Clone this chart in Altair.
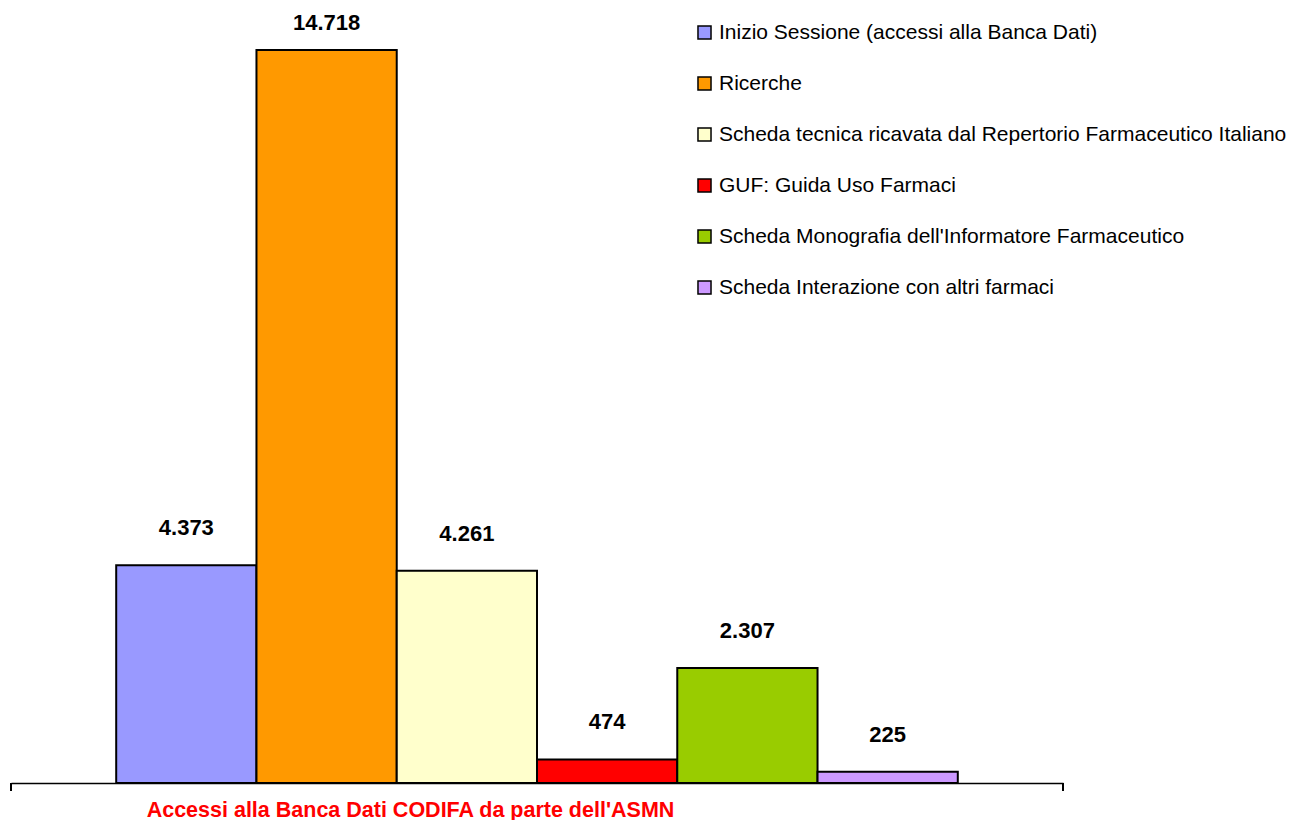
import altair as alt
import pandas as pd

categories = [
    "Inizio Sessione (accessi alla Banca Dati)",
    "Ricerche",
    "Scheda tecnica ricavata dal Repertorio Farmaceutico Italiano",
    "GUF: Guida Uso Farmaci",
    "Scheda Monografia dell'Informatore Farmaceutico",
    "Scheda Interazione con altri farmaci",
]
values = [4373, 14718, 4261, 474, 2307, 225]
value_labels = ["4.373", "14.718", "4.261", "474", "2.307", "225"]
colors = ["#9999FF", "#FF9900", "#FFFFCC", "#FF0000", "#99CC00", "#CC99FF"]

df = pd.DataFrame({"cat": categories, "val": values, "lab": value_labels})

W, H = 1052, 775
YMAX = 15561
FONT = "Liberation Sans"

x = alt.X(
    "cat:N",
    sort=categories,
    scale=alt.Scale(paddingInner=0, paddingOuter=0.75),
    axis=alt.Axis(
        labels=False,
        ticks=False,
        grid=False,
        domainColor="black",
        domainWidth=1.5,
        title="Accessi alla Banca Dati CODIFA da parte dell'ASMN",
        titleColor="#FF0000",
        titleFont=FONT,
        titleFontSize=21.5,
        titleFontWeight="bold",
        titleX=399,
        titleY=27,
        titleBaseline="middle",
        titleAlign="center",
        titleAnchor="start",
    ),
)
yscale = alt.Scale(domain=[0, YMAX], nice=False)

bars = alt.Chart(df).mark_bar(stroke="black", strokeWidth=2).encode(
    x=x,
    y=alt.Y("val:Q", scale=yscale, axis=None),
    color=alt.Color(
        "cat:N",
        sort=categories,
        scale=alt.Scale(domain=categories, range=colors),
        legend=alt.Legend(
            title=None,
            orient="none",
            legendX=683,
            legendY=14,
            padding=0,
            symbolType="square",
            symbolSize=170,
            symbolStrokeColor="black",
            symbolStrokeWidth=1.5,
            symbolOpacity=1,
            labelFont=FONT,
            labelFontSize=21,
            labelColor="black",
            labelLimit=700,
            labelOffset=4,
            rowPadding=29,
        ),
    ),
)

# value labels above bars, kept inside the plot area (as the original does)
texts = alt.Chart(df).transform_calculate(
    ly="min(datum.val + 743, 15260)"
).mark_text(
    font=FONT, fontSize=22, fontWeight="bold", color="black", baseline="middle"
).encode(
    x=alt.X("cat:N", sort=categories),
    y=alt.Y("ly:Q", scale=yscale, axis=None),
    text="lab:N",
)

tick_l = alt.Chart(df).mark_rule(color="black", strokeWidth=1.5).encode(
    x=alt.value(0), y=alt.value(H), y2=alt.value(H + 8)
)
tick_r = alt.Chart(df).mark_rule(color="black", strokeWidth=1.5).encode(
    x=alt.value(W), y=alt.value(H), y2=alt.value(H + 8)
)

chart = (
    alt.layer(bars, texts, tick_l, tick_r)
    .properties(
        width=W,
        height=H,
        padding={"left": 2, "top": 0, "right": 0, "bottom": 0},
        view=alt.ViewBackground(stroke="transparent", strokeWidth=0, fill="white"),
    )
    .configure_view(stroke="transparent", strokeWidth=0)
    .configure(background="white")
)

chart.save("out.html", embed_options={"renderer": "svg", "actions": False})
